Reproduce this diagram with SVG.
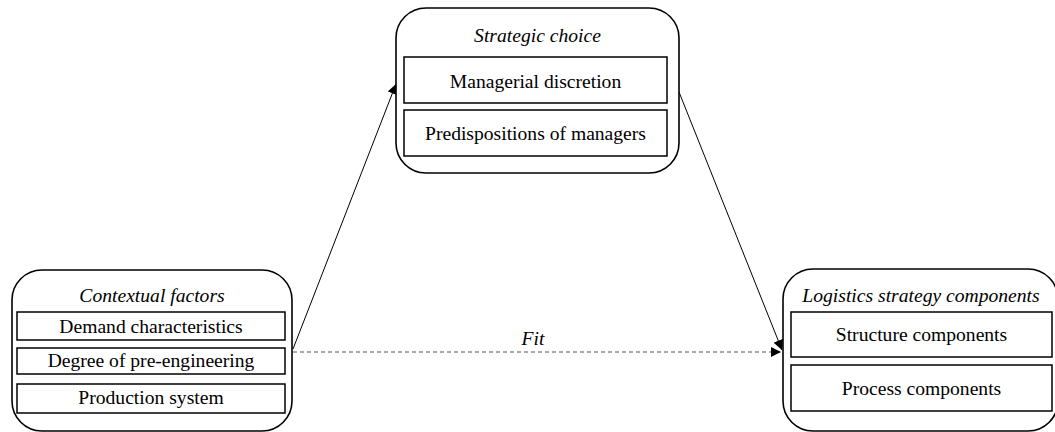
<svg xmlns="http://www.w3.org/2000/svg" width="1055" height="432" viewBox="0 0 1055 432">
  <style>
    .group { fill: #fff; stroke: #000; stroke-width: 1.6; }
    .item { fill: #fff; stroke: #000; stroke-width: 1.5; }
    text { font-family: "Liberation Serif", "Times New Roman", serif; font-size: 19.6px; fill: #000; text-anchor: middle; }
    .title { font-style: italic; }
    .link { fill: none; stroke: #000; stroke-width: 1; }
    .dashed { stroke: #555; stroke-dasharray: 4 3; }
  </style>
  <defs>
    <marker id="arrow" viewBox="0 0 10 10" refX="10" refY="5" markerWidth="10" markerHeight="10" markerUnits="userSpaceOnUse" orient="auto">
      <path d="M0,0 L10,5 L0,10 Z" fill="#000"/>
    </marker>
  </defs>

  <!-- connectors -->
  <g id="connectors">
    <line class="link" x1="293" y1="349" x2="396" y2="84" marker-end="url(#arrow)"/>
    <line class="link" x1="679" y1="92" x2="782" y2="350" marker-end="url(#arrow)"/>
    <line class="link dashed" x1="293" y1="352" x2="781" y2="352" marker-end="url(#arrow)"/>
    <text class="title" x="533" y="345">Fit</text>
  </g>

  <!-- strategic choice -->
  <g id="strategic-choice">
    <rect class="group" x="396" y="8" width="283" height="165" rx="30" ry="30"/>
    <text class="title" x="537.5" y="42">Strategic choice</text>
    <rect class="item" x="404" y="57" width="263" height="46"/>
    <text x="535.5" y="88">Managerial discretion</text>
    <rect class="item" x="404" y="110" width="263" height="46"/>
    <text x="535.5" y="140">Predispositions of managers</text>
  </g>

  <!-- contextual factors -->
  <g id="contextual-factors">
    <rect class="group" x="12" y="270" width="280" height="161" rx="30" ry="30"/>
    <text class="title" x="152" y="302">Contextual factors</text>
    <rect class="item" x="17" y="312" width="268" height="28"/>
    <text x="151" y="333">Demand characteristics</text>
    <rect class="item" x="17" y="348" width="268" height="26"/>
    <text x="151" y="367">Degree of pre-engineering</text>
    <rect class="item" x="17" y="384" width="268" height="29"/>
    <text x="151" y="404">Production system</text>
  </g>

  <!-- logistics strategy components -->
  <g id="logistics-strategy">
    <rect class="group" x="783" y="269" width="275" height="162" rx="30" ry="30"/>
    <text class="title" x="921" y="302">Logistics strategy components</text>
    <rect class="item" x="791" y="312" width="261" height="45"/>
    <text x="921.5" y="341">Structure components</text>
    <rect class="item" x="791" y="365" width="261" height="46"/>
    <text x="921.5" y="395">Process components</text>
  </g>
</svg>
